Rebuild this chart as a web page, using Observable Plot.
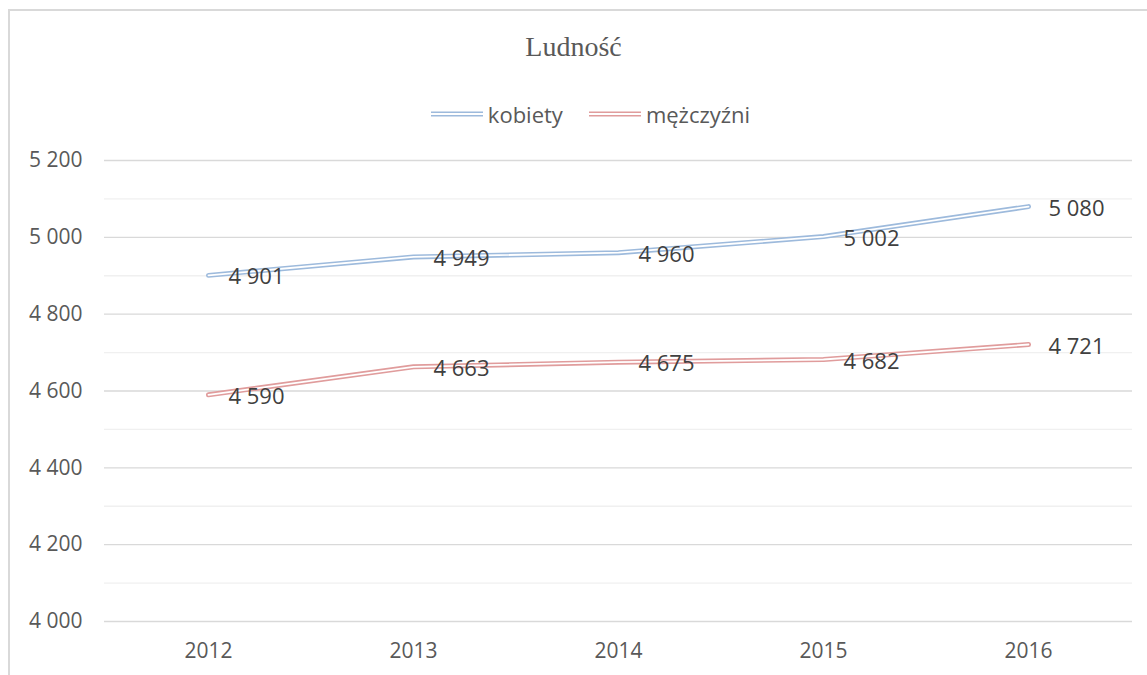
<!DOCTYPE html>
<html>
<head>
<meta charset="utf-8">
<script src="https://cdn.jsdelivr.net/npm/d3@7"></script>
<script src="https://cdn.jsdelivr.net/npm/@observablehq/plot@0.6"></script>
<style>
  html, body { margin: 0; padding: 0; background: #fff; }
  #wrap { position: relative; width: 1147px; height: 675px; overflow: hidden; }
  #frame { position: absolute; left: 8px; top: 9px; width: 1200px; height: 800px; border: 2px solid #d9d9d9; box-sizing: border-box; }
  #title { position: absolute; left: 0; width: 1147px; top: 29px; text-align: center; font-family: "Liberation Serif", "DejaVu Serif", serif; font-size: 28px; line-height: 36px; color: #595959; }
  #legend { position: absolute; left: 17px; width: 1147px; top: 94px; text-align: center; font-family: "Open Sans", "Liberation Sans", sans-serif; font-size: 22px; line-height: 30px; color: #595959; }
  .item { display: inline-flex; align-items: center; margin: 0 13px; }
  .item svg { margin-right: 5px; }
  #chart { position: absolute; left: 0; top: 0; }
</style>
</head>
<body>
<div id="wrap">
  <div id="frame"></div>
  <div id="title">Ludność</div>
  <div id="legend"></div>
  <div id="chart"></div>
</div>
<script>
const years = ["2012", "2013", "2014", "2015", "2016"];
const kobiety = [4901, 4949, 4960, 5002, 5080];
const mezczyzni = [4590, 4663, 4675, 4682, 4721];
const seriesNames = ["kobiety", "mężczyźni"];
const seriesColors = ["#9dbadc", "#e09c9c"];
const majorTicks = [4000, 4200, 4400, 4600, 4800, 5000, 5200];
const minorTicks = [4100, 4300, 4500, 4700, 4900, 5100];

const rows = [];
years.forEach((y, i) => {
  rows.push({year: y, value: kobiety[i], series: seriesNames[0]});
  rows.push({year: y, value: mezczyzni[i], series: seriesNames[1]});
});

const fmt = v => d3.format(",")(v).replace(/,/g, " ");

// legend
const legend = d3.select("#legend");
seriesNames.forEach((n, i) => {
  const it = legend.append("span").attr("class", "item");
  const svg = it.append("svg").attr("width", 52).attr("height", 8);
  svg.append("line").attr("x1", 0).attr("x2", 52).attr("y1", 4).attr("y2", 4)
    .attr("stroke", seriesColors[i]).attr("stroke-width", 5);
  svg.append("line").attr("x1", 0).attr("x2", 52).attr("y1", 4).attr("y2", 4)
    .attr("stroke", "#fff").attr("stroke-width", 1.8);
  it.append("span").text(n);
});

const colorScale = {domain: seriesNames, range: seriesColors};

const chart = Plot.plot({
  width: 1147,
  height: 675,
  marginTop: 160,
  marginBottom: 54,
  marginLeft: 104,
  marginRight: 15,
  style: {background: "transparent", fontFamily: "'Open Sans', 'Liberation Sans', sans-serif"},
  x: {type: "point", domain: years, padding: 0.5, label: null},
  y: {domain: [4000, 5200], label: null},
  color: colorScale,
  marks: [
    Plot.ruleY(minorTicks, {stroke: "#f0f0f0", strokeWidth: 1.3}),
    Plot.ruleY(majorTicks, {stroke: "#d9d9d9", strokeWidth: 1.3}),
    Plot.axisY(majorTicks, {tickSize: 0, tickPadding: 0, dx: -22, tickFormat: fmt, fontSize: 21, fill: "#595959", label: null}),
    Plot.axisX({tickSize: 0, tickPadding: 22, fontSize: 21, fill: "#595959", label: null}),
    Plot.line(rows, {x: "year", y: "value", z: "series", stroke: "series", strokeWidth: 5}),
    Plot.line(rows, {x: "year", y: "value", z: "series", stroke: "#fff", strokeWidth: 1.8}),
    Plot.text(rows, {x: "year", y: "value", text: d => fmt(d.value), textAnchor: "start", dx: 20, dy: 2, fontSize: 22, fill: "#404040"})
  ]
});
document.getElementById("chart").appendChild(chart);
</script>
</body>
</html>
